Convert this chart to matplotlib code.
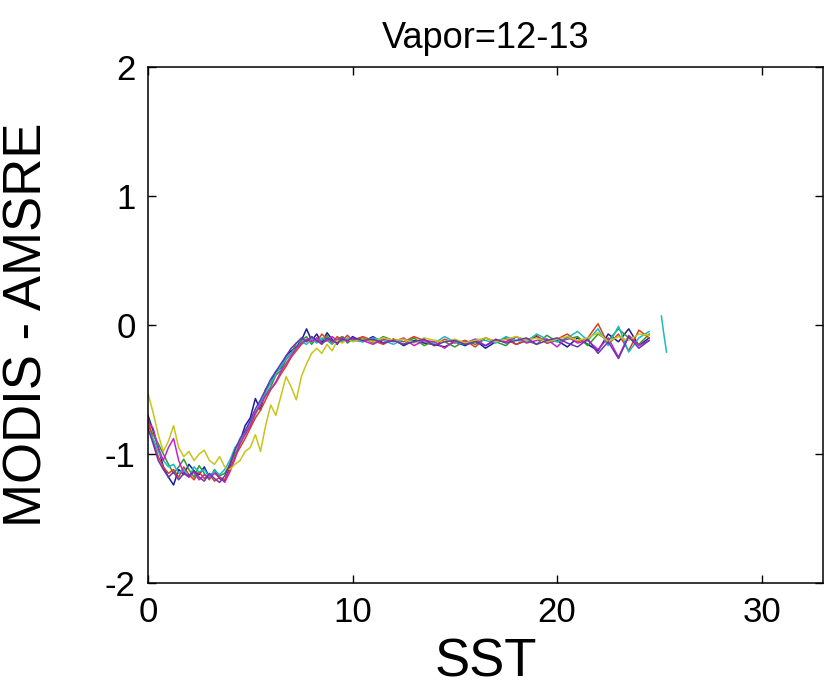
import numpy as np
import matplotlib
matplotlib.use("Agg")
import matplotlib.pyplot as plt

plt.rcParams["font.family"] = ["Liberation Sans", "DejaVu Sans"]
plt.rcParams["axes.unicode_minus"] = False

# SST grid: fine steps over the dip and rise, coarser on the plateau
sst_lo = np.arange(0, 10.01, 0.25)
sst_hi = np.arange(10.5, 24.51, 0.5)
sst = np.concatenate([sst_lo, sst_hi])

# MODIS - AMSRE, one list per curve
diff_blue = [-0.70, -0.82, -0.95, -1.10, -1.18, -1.24, -1.12, -1.16, -1.08, -1.13,
             -1.16, -1.10, -1.18, -1.13, -1.19, -1.21, -1.10, -0.96, -0.90, -0.78,
             -0.72, -0.57, -0.66, -0.50, -0.45, -0.36, -0.33, -0.24, -0.20, -0.17,
             -0.12, -0.03, -0.12, -0.07, -0.14, -0.06, -0.11, -0.15, -0.09, -0.13, -0.09,
             -0.13, -0.09, -0.14, -0.11, -0.16, -0.12, -0.14, -0.15, -0.17, -0.13,
             -0.16, -0.12, -0.18, -0.13, -0.10, -0.15, -0.12, -0.09, -0.14, -0.12,
             -0.17, -0.10, -0.15, -0.20, -0.07, -0.13, -0.03, -0.16, -0.10]
diff_green = [-0.78, -0.85, -0.92, -1.00, -1.08, -1.15, -1.10, -1.04, -1.12, -1.18,
              -1.09, -1.15, -1.20, -1.12, -1.17, -1.15, -1.08, -1.00, -0.92, -0.84,
              -0.78, -0.69, -0.62, -0.54, -0.48, -0.39, -0.35, -0.27, -0.22, -0.14,
              -0.12, -0.09, -0.15, -0.10, -0.12, -0.08, -0.14, -0.11, -0.09, -0.14, -0.11,
              -0.10, -0.14, -0.09, -0.12, -0.15, -0.10, -0.16, -0.12, -0.13, -0.17,
              -0.12, -0.15, -0.10, -0.13, -0.16, -0.09, -0.12, -0.15, -0.08, -0.13,
              -0.11, -0.09, -0.16, -0.07, -0.12, -0.03, -0.10, -0.15, -0.07]
diff_red = [-0.72, -0.90, -1.02, -1.10, -1.15, -1.12, -1.18, -1.10, -1.16, -1.20,
            -1.14, -1.19, -1.16, -1.21, -1.18, -1.20, -1.12, -1.02, -0.95, -0.88,
            -0.80, -0.72, -0.66, -0.58, -0.50, -0.45, -0.38, -0.32, -0.25, -0.20,
            -0.15, -0.12, -0.09, -0.13, -0.07, -0.11, -0.14, -0.09, -0.12, -0.08, -0.12,
            -0.09, -0.12, -0.15, -0.11, -0.13, -0.09, -0.12, -0.16, -0.11, -0.14,
            -0.12, -0.17, -0.10, -0.13, -0.11, -0.15, -0.12, -0.08, -0.14, -0.11,
            -0.07, -0.13, -0.10, 0.01, -0.15, -0.07, -0.20, -0.04, -0.10]
diff_cyan = [-0.82, -0.88, -0.98, -1.05, -1.10, -1.08, -1.15, -1.12, -1.18, -1.10,
             -1.14, -1.12, -1.18, -1.13, -1.16, -1.12, -1.05, -0.95, -0.90, -0.82,
             -0.76, -0.68, -0.60, -0.52, -0.45, -0.38, -0.32, -0.26, -0.22, -0.18,
             -0.13, -0.15, -0.11, -0.14, -0.10, -0.12, -0.15, -0.11, -0.13, -0.10, -0.12,
             -0.13, -0.10, -0.12, -0.15, -0.11, -0.13, -0.12, -0.14, -0.09, -0.13,
             -0.15, -0.11, -0.12, -0.14, -0.09, -0.12, -0.13, -0.07, -0.11, -0.13,
             -0.10, -0.05, -0.12, -0.03, -0.16, -0.01, -0.21, -0.10, -0.05]
diff_magenta = [-0.75, -0.80, -0.95, -1.05, -0.95, -0.88, -1.05, -1.15, -1.18, -1.14,
                -1.20, -1.16, -1.19, -1.15, -1.18, -1.22, -1.14, -1.04, -0.92, -0.85,
                -0.78, -0.68, -0.62, -0.55, -0.50, -0.44, -0.36, -0.30, -0.24, -0.18,
                -0.14, -0.11, -0.13, -0.10, -0.14, -0.12, -0.09, -0.12, -0.10, -0.13, -0.11,
                -0.12, -0.15, -0.11, -0.13, -0.10, -0.16, -0.12, -0.13, -0.18, -0.12,
                -0.14, -0.11, -0.16, -0.12, -0.13, -0.09, -0.14, -0.12, -0.11, -0.17,
                -0.09, -0.14, -0.12, -0.19, -0.10, -0.25, -0.08, -0.16, -0.12]
diff_yellow = [-0.53, -0.68, -0.85, -0.98, -0.90, -0.78, -0.95, -1.02, -0.98, -1.05,
               -1.00, -0.97, -1.05, -1.08, -1.02, -1.10, -1.12, -1.08, -1.05, -0.98,
               -0.95, -0.85, -0.98, -0.78, -0.62, -0.70, -0.55, -0.40, -0.48, -0.58,
               -0.40, -0.30, -0.22, -0.18, -0.22, -0.15, -0.20, -0.12, -0.14, -0.11, -0.13,
               -0.11, -0.13, -0.10, -0.12, -0.11, -0.14, -0.10, -0.12, -0.13, -0.11,
               -0.14, -0.12, -0.10, -0.13, -0.11, -0.09, -0.12, -0.10, -0.13, -0.11,
               -0.09, -0.12, -0.10, -0.06, -0.13, -0.09, -0.12, -0.07, -0.08]
diff_purple = [-0.80, -0.92, -1.05, -1.12, -1.18, -1.14, -1.20, -1.15, -1.17, -1.13,
               -1.18, -1.21, -1.15, -1.19, -1.22, -1.17, -1.08, -0.97, -0.88, -0.82,
               -0.74, -0.65, -0.58, -0.50, -0.42, -0.36, -0.30, -0.24, -0.18, -0.14,
               -0.10, -0.13, -0.09, -0.12, -0.15, -0.10, -0.12, -0.14, -0.11, -0.12, -0.10,
               -0.12, -0.11, -0.14, -0.12, -0.15, -0.13, -0.11, -0.16, -0.13, -0.12,
               -0.15, -0.13, -0.16, -0.11, -0.14, -0.12, -0.10, -0.15, -0.12, -0.10,
               -0.14, -0.17, -0.11, -0.22, -0.13, -0.26, -0.09, -0.18, -0.12]

# short separate cyan piece near SST=25
stub_sst = [25.1, 25.2, 25.35]
stub_diff = [0.07, -0.05, -0.21]

curves = [(diff_blue, "#1c1c9a"), (diff_green, "#2e9a2e"), (diff_red, "#d9401c"),
          (diff_cyan, "#1cb8c6"), (diff_magenta, "#c424c4"), (diff_yellow, "#c8c41c"),
          (diff_purple, "#6a36b0")]

fig = plt.figure(figsize=(8.25, 6.9), dpi=100)
ax = fig.add_axes([148 / 825, 1 - 583 / 690, 675 / 825, 516 / 690])

for vals, col in curves:
  ax.plot(sst, vals, color=col, lw=1.1)
ax.plot(stub_sst, stub_diff, color="#1cb8c6", lw=1.1)

ax.set_xlim(0, 33)
ax.set_ylim(-2, 2)
ax.set_xticks([0, 10, 20, 30])
ax.set_yticks([-2, -1, 0, 1, 2])
ax.tick_params(direction="in", length=6, width=1, labelsize=25, pad=9,
               top=True, right=True)
for sp in ax.spines.values():
  sp.set_linewidth(1.1)

ax.set_title("Vapor=12-13", fontsize=26, pad=14)
ax.set_xlabel("SST", fontsize=38)
ax.set_ylabel("MODIS - AMSRE", fontsize=38)
ax.xaxis.set_label_coords(0.5, -0.105)
ax.yaxis.set_label_coords(-0.141, 0.5)

fig.savefig("out.png", dpi=100)
